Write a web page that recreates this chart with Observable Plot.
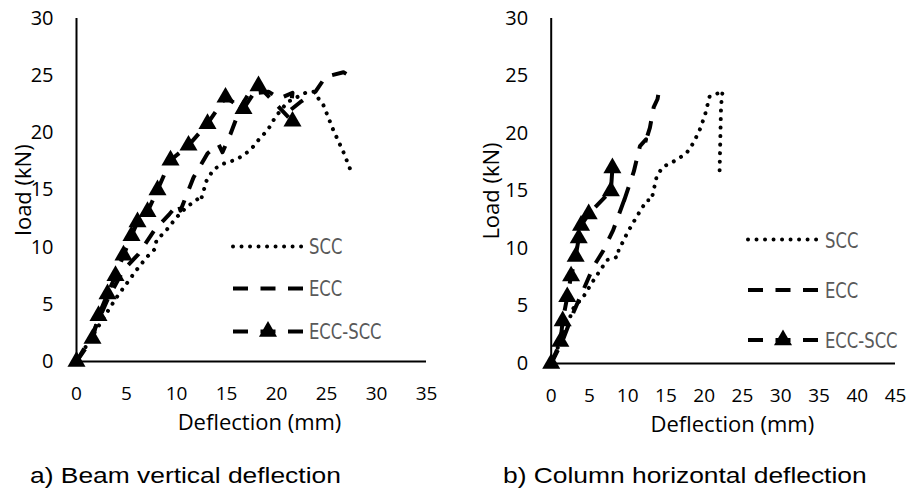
<!DOCTYPE html>
<html><head><meta charset="utf-8">
<script src="https://cdn.jsdelivr.net/npm/d3@7"></script>
<script src="https://cdn.jsdelivr.net/npm/@observablehq/plot@0.6"></script>
<style>
html,body{margin:0;padding:0;background:#fff;}
#wrap{position:relative;width:907px;height:498px;overflow:hidden;background:#fff;}
#wrap > .panel{position:absolute;top:0;}
#overlay{position:absolute;left:0;top:0;pointer-events:none;}
</style></head><body><div id="wrap"></div>
<script>
// ---------- data ----------
const seriesNames = ["SCC", "ECC", "ECC-SCC"];
const yTicks = [0, 5, 10, 15, 20, 25, 30];
const beamXTicks = [0, 5, 10, 15, 20, 25, 30, 35];
const columnXTicks = [0, 5, 10, 15, 20, 25, 30, 35, 40, 45];
const yLabels = ["load (kN)", "Load (kN)"];
const xLabel = "Deflection (mm)";
const panelCaptions = ["a) Beam vertical deflection", "b) Column horizontal deflection"];

// Beam vertical deflection: [deflection mm, load kN]
const beamSCC = [[0,0],[1.5,2.1],[3.2,4.5],[4.0,5.6],[5.0,6.8],[6.0,8.0],[7.0,9.1],[7.8,9.8],[8.0,10.6],[9.0,11.5],[10.0,12.6],[11.0,13.5],[12.1,14.2],[12.4,14.0],[13.0,15.8],[13.7,16.8],[14.7,17.3],[16.1,17.7],[17.4,18.5],[18.4,19.6],[19.1,20.2],[19.9,21.4],[21.1,22.7],[22.9,23.5],[23.7,23.6],[24.7,22.4],[25.7,20.2],[26.7,18.3],[27.6,16.3]];
const beamECC = [[0,0],[1.5,2.2],[3.2,5.6],[4.7,8.0],[6.2,9.4],[7.8,11.5],[9.3,12.9],[10.2,13.8],[10.4,13.2],[11.7,16.1],[13.1,18.2],[14.2,19.0],[14.6,18.3],[15.4,19.9],[16.4,22.2],[17.2,23.4],[19.2,23.6],[20.3,23.0],[21.6,23.5],[21.4,22.0],[22.4,22.7],[23.9,23.6],[24.9,24.9],[26.7,25.3],[27.3,25.0]];
const beamECCSCC = [[0,0],[1.6,2.0],[2.2,4.0],[3.1,5.9],[3.9,7.5],[4.7,9.3],[5.5,11.0],[6.1,12.2],[7.1,13.1],[8.1,15.0],[9.4,17.6],[11.2,18.9],[13.1,20.8],[14.9,23.1],[16.7,22.1],[18.2,24.1],[21.6,21.0]];

// Column horizontal deflection: [deflection mm, load kN]
const columnSCC = [[0,0],[1.0,1.6],[2.0,3.2],[2.9,4.8],[4.2,5.8],[5.5,7.2],[7.3,9.0],[8.8,9.3],[8.8,9.8],[9.9,11.3],[11.2,12.8],[12.5,14.2],[13.1,14.2],[13.3,14.8],[13.8,16.3],[14.6,17.1],[16.4,17.7],[17.7,18.3],[18.6,19.2],[19.4,20.3],[20.1,21.6],[20.7,23.2],[21.8,23.5],[22.4,23.7],[22.2,22.4],[22.0,16.5]];
const columnECC = [[0,0],[1.5,2.0],[3.0,4.6],[4.2,6.4],[5.5,8.4],[6.8,9.8],[8.1,11.6],[9.7,14.5],[9.4,13.9],[10.8,16.7],[11.6,18.9],[12.4,19.5],[12.2,19.0],[12.9,20.5],[13.4,22.3],[13.9,23.0],[14.2,24.2]];
const columnECCSCC = [[0,0],[1.2,1.9],[1.5,3.7],[2.1,5.8],[2.6,7.6],[3.2,9.3],[3.6,10.9],[3.9,12.0],[4.9,13.0],[7.8,15.0],[8.0,17.0]];

// ---------- styles ----------
const FONT = "'Open Sans', 'Noto Sans', sans-serif";
const DOT = {stroke: "#000", strokeWidth: 4, strokeDasharray: "0.01 8.5", strokeLinecap: "round"};
const DASH = {stroke: "#000", strokeWidth: 4, strokeDasharray: "15 12.5", strokeLinecap: "butt"};
const TRI_R = 6.7;

function panel(series, xTicks, yLabel, L) {
  const [scc, ecc, mix] = series;
  const X = d => d[0], Y = d => d[1];
  return Plot.plot({
    width: L.width, height: 440,
    marginLeft: L.ml, marginRight: L.mr, marginTop: L.mt, marginBottom: L.mb,
    x: {domain: [xTicks[0], xTicks[xTicks.length - 1]]},
    y: {domain: [yTicks[0], yTicks[yTicks.length - 1]]},
    style: {fontFamily: FONT, fontSize: "20px", color: "#000", background: "transparent", overflow: "visible"},
    marks: [
      Plot.axisY({ticks: yTicks, tickSize: 0, tickPadding: 23, label: null, fontSize: 20}),
      Plot.axisX({ticks: xTicks, tickSize: 0, tickPadding: 25, label: null, fontSize: 19}),
      Plot.text([yLabel], {text: d => d, frameAnchor: "left", rotate: -90, dx: L.ylabDx, fontSize: 22, lineAnchor: "middle", textAnchor: "middle", fill: "#000"}),
      Plot.text([xLabel], {text: d => d, frameAnchor: "bottom", dy: 61, dx: L.xlabDx, fontSize: 22, lineAnchor: "middle", fill: "#000"}),
      Plot.ruleX([0], {stroke: "#000", strokeWidth: 2}),
      Plot.ruleY([0], {stroke: "#000", strokeWidth: 2}),
      Plot.line(scc, {x: X, y: Y, ...DOT}),
      Plot.line(ecc, {x: X, y: Y, ...DASH}),
      Plot.line(mix, {x: X, y: Y, ...DASH}),
      Plot.dot(mix, {x: X, y: Y, symbol: "triangle", r: TRI_R, fill: "#000", stroke: "none"})
    ]
  });
}

const wrap = document.getElementById("wrap");
const left = panel([beamSCC, beamECC, beamECCSCC], beamXTicks, yLabels[0],
  {width: 450, ml: 76, mr: 24, mt: 18, mb: 79, ylabDx: -53, xlabDx: 8});
left.classList.add("panel"); left.style.left = "0px";
const right = panel([columnSCC, columnECC, columnECCSCC], columnXTicks, yLabels[1],
  {width: 457, ml: 100.7, mr: 12, mt: 18, mb: 77, ylabDx: -59, xlabDx: 9});
right.classList.add("panel"); right.style.left = "450px";
wrap.appendChild(left); wrap.appendChild(right);

// ---------- legends & captions (overlay) ----------
const legendLayouts = [
  {x0: 233, x1: 303, ys: [246.5, 288.5, 331.5], tx: 309, tys: [254, 296, 339]},
  {x0: 748, x1: 818, ys: [239.5, 290, 340], tx: 825, tys: [248, 298, 348]}
];
const captionLayouts = [{x: 30, y: 483}, {x: 503, y: 483}];
const seriesStyles = [DOT, DASH, DASH];

const svg = d3.select(wrap).append("svg").attr("id", "overlay").attr("width", 907).attr("height", 498);
legendLayouts.forEach(L => {
  seriesNames.forEach((name, i) => {
    const s = seriesStyles[i];
    svg.append("line").attr("x1", L.x0).attr("x2", L.x1).attr("y1", L.ys[i]).attr("y2", L.ys[i])
      .attr("stroke", s.stroke).attr("stroke-width", s.strokeWidth)
      .attr("stroke-dasharray", s.strokeDasharray).attr("stroke-linecap", s.strokeLinecap);
    if (i === 2) {
      svg.append("path").attr("d", d3.symbol(d3.symbolTriangle, Math.PI * TRI_R * TRI_R)())
        .attr("transform", `translate(${(L.x0 + L.x1) / 2},${L.ys[i]})`).attr("fill", "#000");
    }
    svg.append("text").text(name)
      .attr("transform", `translate(${L.tx},${L.tys[i]}) scale(0.83,1)`)
      .attr("font-family", "'Liberation Sans Narrow', 'DejaVu Sans Condensed', sans-serif")
      .attr("font-size", 22).attr("fill", "#595959");
  });
});
panelCaptions.forEach((c, i) => {
  svg.append("text").text(c)
    .attr("transform", `translate(${captionLayouts[i].x},${captionLayouts[i].y}) scale(1.2,1)`)
    .attr("font-family", "'Liberation Sans', Arial, sans-serif")
    .attr("font-size", 22).attr("fill", "#000");
});
</script></body></html>
